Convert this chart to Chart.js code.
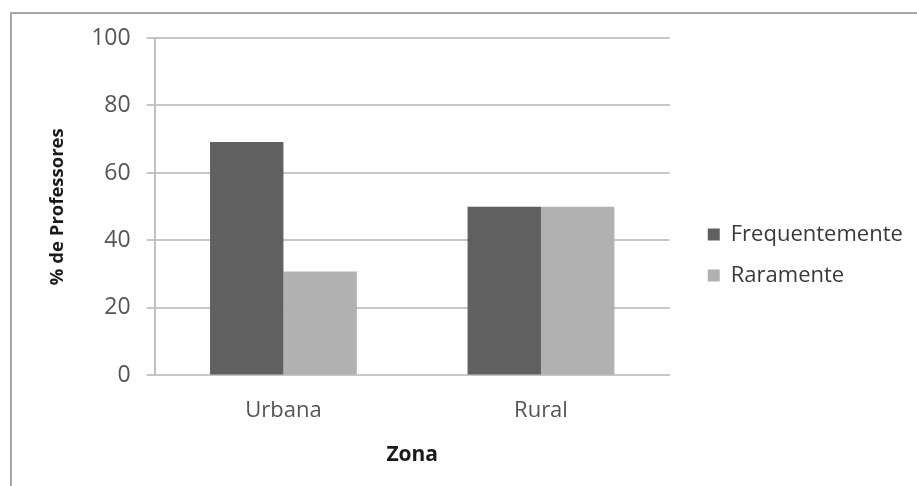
<!DOCTYPE html>
<html>
<head>
<meta charset="utf-8">
<script src="https://cdn.jsdelivr.net/npm/chart.js@4.4.1/dist/chart.umd.min.js"></script>
<style>
  html, body { margin: 0; padding: 0; background: #fff; }
  #wrap { position: relative; width: 917px; height: 486px; overflow: hidden; }
  #frame { position: absolute; left: 10px; top: 12px; width: 1000px; height: 600px;
           border-left: 2px solid #a8a8a8; border-top: 2px solid #a8a8a8; }
  canvas { position: absolute; left: 0; top: 0; }
</style>
</head>
<body>
<div id="wrap">
  <div id="frame"></div>
  <canvas id="c" width="917" height="486"></canvas>
</div>
<script>
// Categories and series
const zonas = ['Urbana', 'Rural'];
const frequentemente = [69.2, 50];
const raramente = [30.8, 50];
const yTickValues = [0, 20, 40, 60, 80, 100];
const seriesNames = ['Frequentemente', 'Raramente'];

const FONT = "'Open Sans', 'DejaVu Sans', sans-serif";
const LEGEND_GAP = 19;

// Leaves a gap between the plot area and the legend on the right
const legendGap = {
  id: 'legendGap',
  afterInit(chart) {
    const lg = chart.legend;
    if (!lg || lg._gapWrapped) return;
    const fit = lg.fit;
    lg.fit = function () { fit.call(this); this.width += LEGEND_GAP; };
    lg._gapWrapped = true;
  },
  afterLayout(chart) {
    const lg = chart.legend;
    if (lg) { lg.left += LEGEND_GAP; }
  }
};

new Chart(document.getElementById('c'), {
  type: 'bar',
  data: {
    labels: zonas,
    datasets: [
      { label: seriesNames[0], data: frequentemente, backgroundColor: '#606060' },
      { label: seriesNames[1], data: raramente, backgroundColor: '#b1b1b1' }
    ]
  },
  options: {
    responsive: false,
    animation: false,
    devicePixelRatio: 1,
    layout: { padding: { left: 43, right: 13, top: 38, bottom: 14 } },
    datasets: { bar: { categoryPercentage: 0.57, barPercentage: 1.0, borderWidth: 0 } },
    plugins: {
      tooltip: { enabled: false },
      legend: {
        position: 'right',
        align: 'center',
        labels: {
          boxWidth: 12, boxHeight: 12, padding: 19,
          color: '#3a3a3a',
          font: { family: FONT, size: 22 }
        }
      }
    },
    scales: {
      x: {
        grid: { display: false },
        border: { display: false },
        ticks: { color: '#555', font: { family: FONT, size: 22 }, padding: 14 },
        title: { display: true, text: 'Zona', color: '#1a1a1a',
                 font: { family: FONT, size: 21, weight: 'bold' }, padding: { top: 5 } }
      },
      y: {
        min: 0, max: 100,
        afterBuildTicks(scale) { scale.ticks = yTickValues.map(v => ({ value: v })); },
        grid: { color: '#c6c6c6', lineWidth: 2, tickLength: 8 },
        border: { display: true, color: '#c0c0c0', width: 2 },
        ticks: { color: '#555', font: { family: FONT, size: 23 }, padding: 16 },
        title: { display: true, text: '% de Professores', color: '#1a1a1a',
                 font: { family: FONT, size: 18.5, weight: 'bold' }, padding: { bottom: 6 } }
      }
    }
  },
  plugins: [legendGap]
});
</script>
</body>
</html>
